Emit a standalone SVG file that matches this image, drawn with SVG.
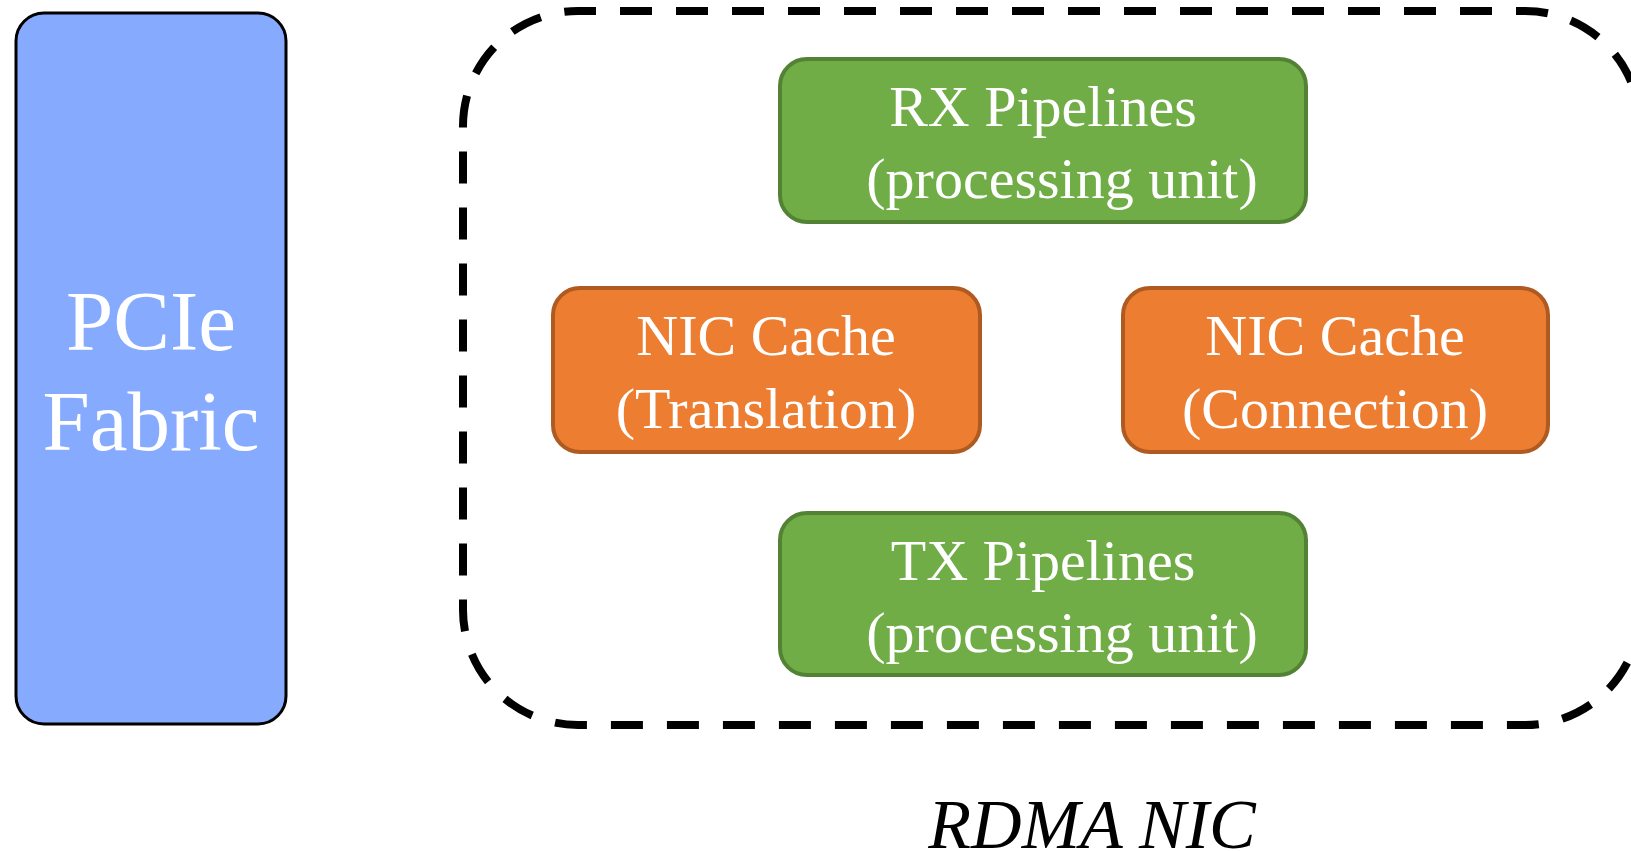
<svg xmlns="http://www.w3.org/2000/svg" width="1631" height="851" viewBox="0 0 1631 851">
<style>
.lbl{font-family:"Liberation Serif","Times New Roman",serif;fill:#fff;text-anchor:middle}
.green{fill:#70AD47;stroke:#548235;stroke-width:4}
.orange{fill:#ED7D31;stroke:#AE5A21;stroke-width:4}
</style>
<rect width="1631" height="851" fill="#fff"/>
<g id="rdma-nic">
<rect x="463" y="11" width="1177" height="714" rx="115" ry="115" fill="none" stroke="#000" stroke-width="8" stroke-dasharray="32 24" stroke-dashoffset="14"/>
<text x="1092" y="848" font-family="Liberation Serif, Times New Roman, serif" font-style="italic" font-size="70" text-anchor="middle" fill="#000">RDMA NIC</text>
</g>
<g id="pcie">
<rect x="16" y="13" width="270" height="711" rx="28" ry="28" fill="#85AAFE" stroke="#000" stroke-width="3"/>
<text class="lbl" x="151" y="350" font-size="85">PCIe</text>
<text class="lbl" x="151" y="450" font-size="85">Fabric</text>
</g>
<g id="rx">
<rect class="green" x="780" y="59" width="526" height="163" rx="27" ry="27"/>
<text class="lbl" x="1043" y="126" font-size="58">RX Pipelines</text>
<text class="lbl" x="1062" y="198" font-size="58">(processing unit)</text>
</g>
<g id="nic-trans">
<rect class="orange" x="553" y="288" width="427" height="164" rx="27" ry="27"/>
<text class="lbl" x="766" y="355" font-size="58">NIC Cache</text>
<text class="lbl" x="766" y="428" font-size="58">(Translation)</text>
</g>
<g id="nic-conn">
<rect class="orange" x="1123" y="288" width="425" height="164" rx="27" ry="27"/>
<text class="lbl" x="1335" y="355" font-size="58">NIC Cache</text>
<text class="lbl" x="1335" y="428" font-size="58">(Connection)</text>
</g>
<g id="tx">
<rect class="green" x="780" y="513" width="526" height="162" rx="27" ry="27"/>
<text class="lbl" x="1043" y="580" font-size="58">TX Pipelines</text>
<text class="lbl" x="1062" y="652" font-size="58">(processing unit)</text>
</g>
<g id="connectors"></g>
</svg>
